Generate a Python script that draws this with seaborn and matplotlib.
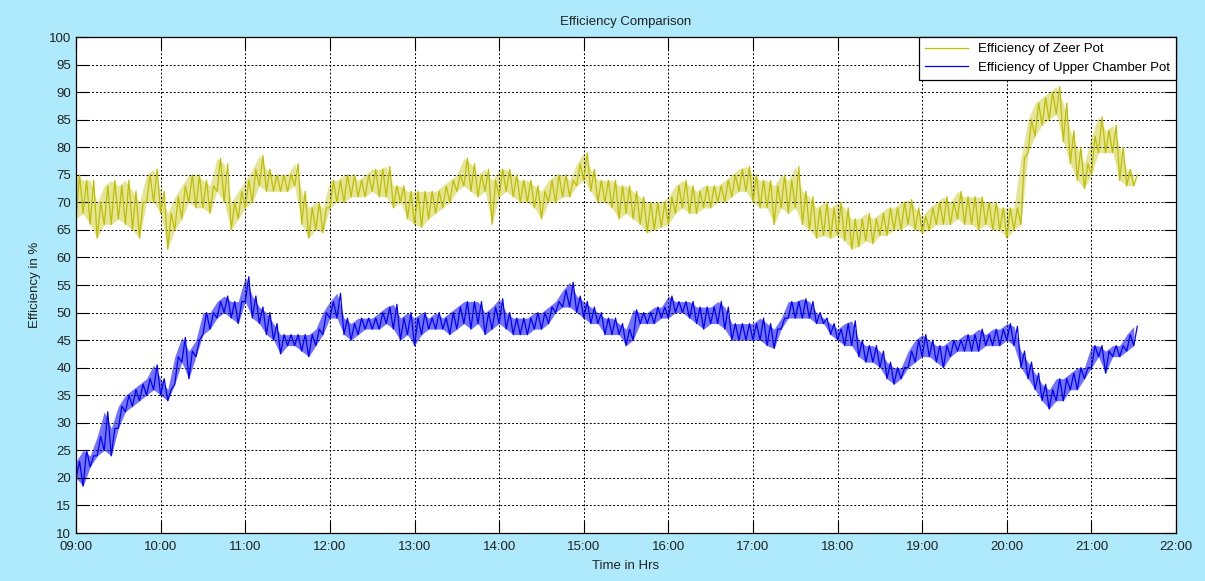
import matplotlib
matplotlib.use('Agg')
import matplotlib.pyplot as plt
import matplotlib.dates as mdates
import pandas as pd
import seaborn as sns

# readings every 5 min from 09:00 to 21:30, low / high of the noisy band
zeer_low = [
    67, 68, 66, 63.5, 66, 66, 67, 66, 65, 63.5, 70, 70,
    68, 61.5, 65, 67, 70, 69, 69, 68, 72, 70, 65, 67,
    69, 70, 73, 72, 72, 72, 72, 73, 66, 63.5, 65, 64.5,
    69, 70, 70, 71, 71, 71, 72, 71, 71, 69, 70, 67,
    66, 65.5, 67, 68, 69, 70, 72, 73, 72, 71, 72, 66,
    71, 72, 71, 70, 70, 69, 67, 70, 70, 71, 71, 73,
    74, 72, 70, 70, 69, 67, 68, 67, 66, 64.5, 65, 65.5,
    66, 68, 69, 68, 68, 69, 69, 70, 70, 71, 72, 72,
    70, 69, 69, 66, 69, 68, 69, 66, 65, 63.5, 64, 63.5,
    64, 63, 61.5, 62, 63, 62.5, 64, 64, 65, 65, 66, 65,
    64.5, 65, 66, 66, 66, 67, 66, 66, 65, 66, 65, 65,
    63.5, 65, 66, 79, 82, 84, 85, 86, 81, 77, 74, 72.5,
    75, 79, 79, 79, 74, 73, 73,
]
zeer_high = [
    75, 74, 74, 70, 73, 74, 73, 74, 72, 70, 75, 76,
    72, 68, 71, 73, 75, 75, 74, 73, 78, 77, 70, 72,
    74, 76, 78.5, 76, 75, 75, 75, 77, 72, 69, 70, 69,
    74, 74, 75, 75, 74, 75, 76, 76, 76.5, 73, 73, 72,
    72, 72, 72, 72, 73, 74, 75, 78, 77, 75, 76, 74,
    76, 76, 75, 74, 74, 73, 72, 74, 75, 75, 74, 77,
    79, 76, 74, 74, 74, 73, 73, 72, 71, 70, 70, 70,
    71, 73, 74, 73, 72, 73, 73, 73, 74, 75, 76, 76.5,
    75, 74, 74, 73, 75, 74, 76.5, 72, 71, 69, 70, 69,
    70, 69, 67, 67, 68, 67, 68, 69, 69, 70, 70.5, 69,
    67.5, 69, 70, 71, 70, 72, 71, 71, 71, 70, 70, 69,
    69, 69, 78, 85, 88, 89, 90, 91, 88, 83, 80, 77,
    82, 85.5, 83, 84, 80, 76, 75,
]
upper_low = [
    20, 18.5, 22, 24, 25, 24, 29, 32, 33, 34, 35, 36,
    35, 34, 37, 41, 38, 42, 46, 47, 49, 50, 49, 48,
    52, 49, 48, 46, 45, 42.5, 44, 44, 43, 42, 44, 46,
    49, 49, 46, 45, 46, 47, 47, 47, 48, 47, 45, 46,
    44, 46, 47, 47, 47, 46, 47, 48, 47, 48, 46, 47,
    48, 47, 46, 46, 46, 47, 47, 48, 50, 51, 51, 50,
    49, 48, 48, 46, 46, 46, 44, 45, 48, 48, 48, 49,
    49, 50, 50, 49, 48, 47, 48, 48, 47, 45, 45, 45,
    45, 45, 44, 43.5, 47, 49, 49, 49, 49, 48, 48, 46,
    45, 44, 44, 42, 41, 41, 40, 38, 37, 38, 40, 41,
    42, 42, 41, 40, 42, 43, 43, 43, 43, 44, 44, 44,
    45, 44, 40, 38, 36, 34, 32.5, 34, 34, 36, 36, 38,
    40, 42, 39, 42, 42, 43, 44,
]
upper_high = [
    23, 25, 24, 27.5, 32, 29, 33, 35, 36, 37, 38, 40.5,
    38, 36, 42, 45.5, 43, 45, 50, 50, 52, 53, 52, 52,
    56.5, 53, 51, 50, 48, 46, 46, 46, 46, 46, 47, 50,
    52, 53.5, 49, 48, 49, 49, 49, 50, 51, 51.5, 49, 50,
    49, 50, 49, 50, 49, 50, 51, 52, 52, 52, 50, 51,
    52.5, 50, 49, 49, 49, 50, 50, 51, 52, 54, 55.5, 53,
    52, 51, 50, 49, 49, 48, 47, 50.5, 50, 50, 51, 51,
    53, 52, 52, 52, 51, 51, 51, 52, 51, 48, 48, 48,
    48, 49, 48, 47, 49, 52, 52, 52.5, 52, 50, 49, 48,
    47, 48, 48.5, 45, 44, 44, 43, 41, 40, 40, 43, 45,
    46, 45, 44, 44, 45, 45, 46, 46, 47, 46, 47, 47,
    48, 47.5, 43, 41, 39, 37, 36, 38, 38, 39, 40, 40,
    44, 44, 43, 44, 44, 46, 47.5,
]

start = pd.Timestamp('2014-05-01 09:00')
end = pd.Timestamp('2014-05-01 22:00')
t_low = pd.date_range(start, periods=len(zeer_low), freq='5min')
t_high = t_low + pd.Timedelta(minutes=2.5)


def interleave(low, high):
    times, vals = [], []
    for a, b, lo, hi in zip(t_low, t_high, low, high):
        times += [a, b]
        vals += [lo, hi]
    return pd.DataFrame({'time': times, 'value': vals})


df_zeer = interleave(zeer_low, zeer_high)
df_upper = interleave(upper_low, upper_high)

plt.rcParams['font.family'] = ['Liberation Sans', 'DejaVu Sans']

zeer_color = '#BFBF00'
upper_color = '#0000FF'

fig = plt.figure(figsize=(12.05, 5.81), dpi=100, facecolor='#AEEAFB')
ax = fig.add_axes([0.0631, 0.0826, 0.9129, 0.8537])
ax.set_facecolor('white')

# noise band, then the raw trace on top
ax.fill_between(t_low, zeer_low, zeer_high, color=zeer_color, alpha=0.4,
                linewidth=0)
ax.fill_between(t_low, upper_low, upper_high, color=upper_color, alpha=0.55,
                linewidth=0)
sns.lineplot(data=df_zeer, x='time', y='value', ax=ax, color=zeer_color,
             linewidth=0.9, sort=False, estimator=None,
             label='Efficiency of Zeer Pot')
sns.lineplot(data=df_upper, x='time', y='value', ax=ax, color=upper_color,
             linewidth=0.9, sort=False, estimator=None,
             label='Efficiency of Upper Chamber Pot')

ax.set_xlim(start, end)
ax.set_ylim(10, 100)
ax.set_yticks(range(10, 101, 5))
ax.xaxis.set_major_locator(mdates.HourLocator())
ax.xaxis.set_major_formatter(mdates.DateFormatter('%H:%M'))

ax.grid(True, color='black', linestyle=(0, (2, 2)), linewidth=0.7)
ax.tick_params(direction='in', length=9, width=0.8, top=True, right=True,
               labelsize=9.5, colors='black', labelcolor='#222222')
ax.tick_params(axis='x', pad=6)
for s in ax.spines.values():
    s.set_color('black')
    s.set_linewidth(0.9)

ax.set_title('Efficiency Comparison', fontsize=9.5, color='#222222', pad=9)
ax.set_xlabel('Time in Hrs', fontsize=9.5, color='#222222', labelpad=5)
ax.set_ylabel('Efficiency in %', fontsize=9.5, color='#222222', labelpad=6)

leg = ax.legend(loc='upper right', fontsize=9.5, fancybox=False,
                edgecolor='black', framealpha=1, borderaxespad=0,
                handlelength=3.2, borderpad=0.45, labelspacing=0.5)
leg.get_frame().set_linewidth(0.9)

fig.savefig('out.png', dpi=100, facecolor=fig.get_facecolor())
